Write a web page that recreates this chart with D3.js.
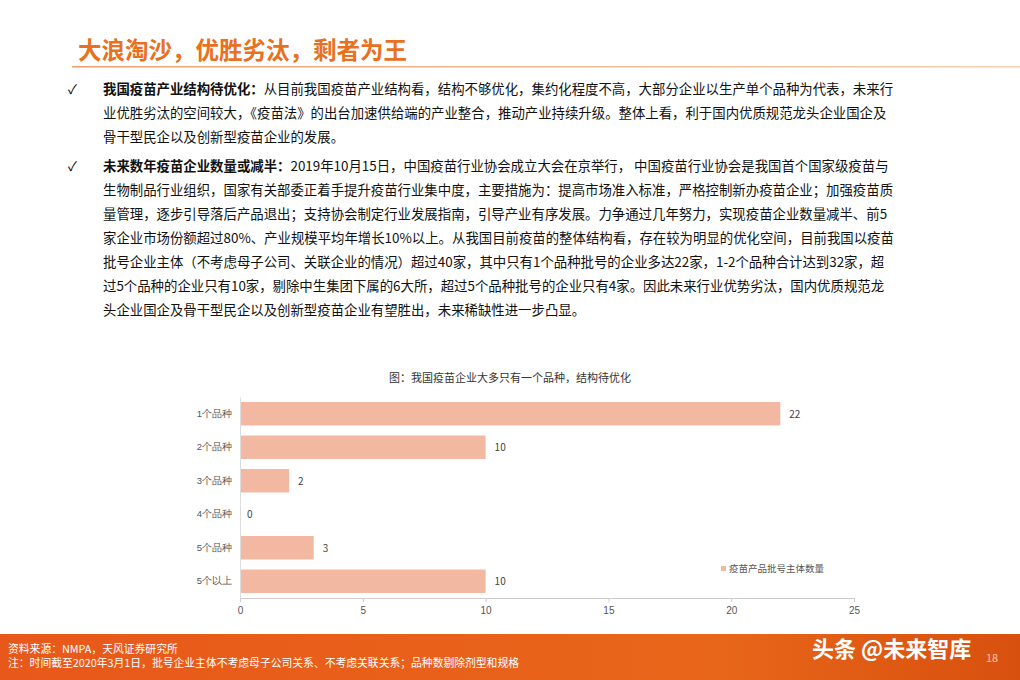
<!DOCTYPE html>
<html><head><meta charset="utf-8">
<script src="https://cdn.jsdelivr.net/npm/d3@7"></script>
<style>body{margin:0;background:#fff;}svg{display:block;font-family:"Noto Sans CJK SC","Noto Sans",sans-serif;}</style>
</head><body>
<svg id="c" width="1020" height="680"></svg>
<script>
const categories = ["1个品种","2个品种","3个品种","4个品种","5个品种","5个以上"];
const values = [22,10,2,0,3,10];
const xTicks = [0,5,10,15,20,25];
const seriesName = "疫苗产品批号主体数量";
const chartTitle = "图：我国疫苗企业大多只有一个品种，结构待优化";
const pageTitle = "大浪淘沙，优胜劣汰，剩者为王";
const para1 = [
 [["我国疫苗产业结构待优化：",true],["从目前我国疫苗产业结构看，结构不够优化，集约化程度不高，大部分企业以生产单个品种为代表，未来行",false]],
 [["业优胜劣汰的空间较大，《疫苗法》的出台加速供给端的产业整合，推动产业持续升级。整体上看，利于国内优质规范龙头企业国企及",false]],
 [["骨干型民企以及创新型疫苗企业的发展。",false]]
];
const para2 = [
 [["未来数年疫苗企业数量或减半：",true],["2019年10月15日，中国疫苗行业协会成立大会在京举行， 中国疫苗行业协会是我国首个国家级疫苗与",false]],
 [["生物制品行业组织，国家有关部委正着手提升疫苗行业集中度，主要措施为：提高市场准入标准，严格控制新办疫苗企业；加强疫苗质",false]],
 [["量管理，逐步引导落后产品退出；支持协会制定行业发展指南，引导产业有序发展。力争通过几年努力，实现疫苗企业数量减半、前5",false]],
 [["家企业市场份额超过80%、产业规模平均年增长10%以上。从我国目前疫苗的整体结构看，存在较为明显的优化空间，目前我国以疫苗",false]],
 [["批号企业主体（不考虑母子公司、关联企业的情况）超过40家，其中只有1个品种批号的企业多达22家，1-2个品种合计达到32家，超",false]],
 [["过5个品种的企业只有10家，剔除中生集团下属的6大所，超过5个品种批号的企业只有4家。因此未来行业优势劣汰，国内优质规范龙",false]],
 [["头企业国企及骨干型民企以及创新型疫苗企业有望胜出，未来稀缺性进一步凸显。",false]]
];
const footnotes = ["资料来源：NMPA，天风证券研究所","注：时间截至2020年3月1日，批号企业主体不考虑母子公司关系、不考虑关联关系；品种数剔除剂型和规格"];

const svg = d3.select("#c");
const defs = svg.append("defs");
const g1 = defs.append("linearGradient").attr("id","ft");
g1.append("stop").attr("offset","0").attr("stop-color","#E8581A");
g1.append("stop").attr("offset","0.7").attr("stop-color","#E8661A");
g1.append("stop").attr("offset","1").attr("stop-color","#D8500E");
const g2 = defs.append("linearGradient").attr("id","ln");
g2.append("stop").attr("offset","0").attr("stop-color","#E9A070");
g2.append("stop").attr("offset","1").attr("stop-color","#F5D0B0");

svg.append("text").attr("x",78).attr("y",59).attr("font-size",23.5).attr("font-weight","bold").attr("fill","#E8701E").text(pageTitle);
svg.append("rect").attr("x",72).attr("y",66).attr("width",948).attr("height",1.5).attr("fill","url(#ln)");

function para(lines,y0){
  svg.append("text").attr("x",68).attr("y",y0).attr("font-size",13).attr("fill","#000").text("✓");
  lines.forEach((ln,i)=>{
    const t = svg.append("text").attr("x",103).attr("y",y0+i*24).attr("font-size",13.4).attr("fill","#111");
    ln.forEach(([s,b])=>t.append("tspan").attr("font-weight",b?"bold":"normal").text(s));
  });
}
para(para1,94);
para(para2,171);

const x = d3.scaleLinear().domain([0,25]).range([240,854]);
const y = d3.scaleBand().domain(categories).range([397,598]).paddingInner(0.3).paddingOuter(0.15);
svg.append("text").attr("x",510).attr("y",382).attr("text-anchor","middle").attr("font-size",11).attr("fill","#333").text(chartTitle);
svg.selectAll(".bar").data(values).enter().append("rect")
  .attr("x",x(0)).attr("y",(d,i)=>y(categories[i])).attr("width",d=>x(d)-x(0)).attr("height",y.bandwidth()).attr("fill","#F2B8A2");
svg.selectAll(".lbl").data(values).enter().append("text")
  .attr("x",d=>x(d)+(d===0?7:9)).attr("y",(d,i)=>y(categories[i])+y.bandwidth()/2+4).attr("font-size",10).attr("fill","#444").text(d=>d);
const ax = svg.append("g").attr("transform","translate(0,598)").call(d3.axisBottom(x).tickValues(xTicks).tickSize(4).tickFormat(d3.format("d")));
ax.selectAll("path,line").attr("stroke","#ccc");
ax.selectAll("text").attr("font-size",10).attr("fill","#555").attr("dy","0.9em");
const ay = svg.append("g").attr("transform","translate(240,0)").call(d3.axisLeft(y).tickSize(0).tickPadding(8));
ay.select("path").attr("stroke","#ddd");
ay.selectAll("text").attr("font-size",9.5).attr("fill","#555");
svg.append("rect").attr("x",721).attr("y",566).attr("width",5).attr("height",5).attr("fill","#F2B8A2");
svg.append("text").attr("x",729).attr("y",572).attr("font-size",9.5).attr("fill","#555").text(seriesName);

svg.append("rect").attr("x",0).attr("y",634).attr("width",1020).attr("height",46).attr("fill","url(#ft)");
footnotes.forEach((f,i)=>svg.append("text").attr("x",8).attr("y",653+i*14).attr("font-size",10.8).attr("fill","#fff").text(f));
svg.append("text").attr("x",812).attr("y",657).attr("font-size",22).attr("font-weight","bold").attr("fill","#fff").text("头条 @未来智库");
svg.append("text").attr("x",986).attr("y",662).attr("font-size",11).attr("fill","#f5c8a8").text("18");
</script>
</body></html>
